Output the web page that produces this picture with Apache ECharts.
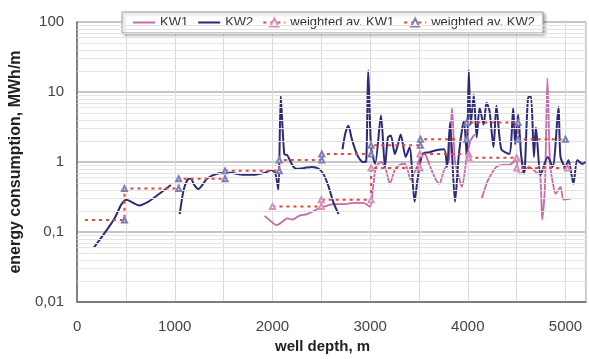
<!DOCTYPE html>
<html>
<head>
<meta charset="utf-8">
<script src="https://cdn.jsdelivr.net/npm/echarts@6/dist/echarts.min.js"></script>
<style>
html,body{margin:0;padding:0;background:#fff;}
#chart{width:589px;height:359px;}
</style>
</head>
<body>
<div id="chart"></div>
<script>
// ---- data (well depth, m ; energy consumption, MWh/m) ----
const kw1Depth = [1919,1990,2040,2101,2152,2202,2273,2354,2455,2525,2626,2727,2830,2929,3000,3030,3061,3111,3162,3202,3253,3303,3354,3384,3414,3465,3515,3556,3616,3667,3707,3758,3808,3838,3869,3909,3939,3990,4030,4071,
  4105,
  4141,4192,4222,4293,4364,4424,4495,4525,4566,4626,4697,4740,4762,4790,4815,4842,4869,4899,4949,4980,5051];
const kw1Value = [0.17,0.14,0.125,0.14,0.157,0.15,0.17,0.18,0.21,0.23,0.25,0.25,0.26,0.26,0.23,0.44,0.85,1.0,0.77,0.49,0.77,0.91,0.94,0.77,0.56,0.77,1.18,1.3,0.85,0.58,0.49,0.77,1.07,5.95,1.0,0.61,0.44,1.18,2.04,2.48,
  null,
  0.3,0.49,0.61,0.85,0.91,0.91,1.07,0.68,0.72,0.85,0.72,0.66,0.15,0.45,15.7,0.9,0.52,0.35,0.44,0.29,0.3];

const kw2Depth = [172,283,384,455,505,556,636,727,828,960,
  1005,
  1050,1091,1131,1162,1200,1240,1333,1434,1566,1697,1818,1919,1990,2030,2061,2085,2121,2152,2202,2242,2323,2404,2475,2525,2576,2626,2677,
  2700,
  2717,2747,2778,2808,2838,2879,2929,2960,2980,3010,3051,3111,3152,3182,3212,3253,3283,3313,3364,3404,3455,3485,3535,3606,3687,3758,3788,3818,3869,3909,3960,3990,4010,4030,4061,4091,4121,4162,4192,4222,4263,4293,4343,4424,4465,4485,4515,4545,4576,4616,4646,4677,4697,4747,4818,4869,4929,4949,5000,5030,5081,5121,5172,5205];
const kw2Value = [0.06,0.097,0.157,0.25,0.29,0.27,0.24,0.27,0.34,0.47,
  null,
  0.18,0.40,0.56,0.58,0.47,0.41,0.58,0.68,0.70,0.66,0.66,0.70,0.77,0.68,0.40,8.8,1.30,1.25,0.91,0.80,0.82,0.85,0.80,0.66,0.44,0.26,0.18,
  null,
  1.52,2.6,3.3,2.25,1.63,1.18,1.0,1.03,20.4,1.63,0.94,4.6,0.85,2.25,2.4,1.30,1.74,2.48,1.18,1.63,0.27,0.56,1.30,1.38,1.48,1.52,0.85,3.66,0.27,1.30,3.9,1.18,20.4,3.43,9.1,2.25,5.95,3.43,7.0,5.4,1.63,6.35,1.52,1.30,5.95,1.79,4.74,1.30,0.68,8.2,8.8,1.18,3.11,0.66,1.18,0.85,6.15,1.18,0.85,1.07,0.49,1.07,0.94,1.0];

// weighted averages (step lines)
const wav1Depth = [2000,2500,2500,3010,3010,3510,3510,4010,4010,4500,4500,5020];
const wav1Value = [0.232,0.232,0.29,0.29,0.82,0.82,1.3,1.3,1.15,1.15,0.82,0.82];
const wav2Depth = [80,485,485,1040,1040,1515,1515,2070,2070,2505,2505,3010,3010,3515,3515,3990,3990,4515,4515,5000];
const wav2Value = [0.148,0.148,0.417,0.417,0.576,0.576,0.747,0.747,1.07,1.07,1.30,1.30,1.73,1.73,2.11,2.11,3.66,3.66,2.11,2.11];

// axis ticks
const xTickLabels = [0,1000,2000,3000,4000,5000];
const yMajor = [0.01,0.1,1,10,100];
const yMinor = [];
for (let e = -2; e < 2; e++) for (let k = 2; k <= 9; k++) yMinor.push(Number((k * Math.pow(10, e)).toPrecision(3)));

function zip(a, b) { return a.map((d, i) => [d, b[i]]); }

const FONT = 'Liberation Sans, Arial, Helvetica, sans-serif';
const chart = echarts.init(document.getElementById('chart'), null, {renderer: 'canvas'});

const wav2Data = zip(wav2Depth, wav2Value).map((p, i) => i === 0 ? {value: p, symbol: 'none'} : p);
const hiddenSymbol = {opacity: 0, color: 'transparent', borderColor: 'transparent'};

chart.setOption({
  animation: false,
  backgroundColor: '#ffffff',
  textStyle: {fontFamily: FONT},
  grid: {left: 75, right: -2, top: 22, bottom: 54, show: true, borderColor: '#8a8a8a', borderWidth: 1, backgroundColor: 'transparent'},
  legend: {
    data: [
      {name: 'KW1', itemStyle: hiddenSymbol},
      {name: 'KW2', itemStyle: hiddenSymbol},
      {name: 'weighted av. KW1'},
      {name: 'weighted av. KW2'}
    ],
    left: 122, top: 12,
    itemWidth: 22, itemHeight: 10, itemGap: 9,
    padding: [4, 8, 4, 10],
    backgroundColor: '#ffffff',
    borderColor: '#9a9a9a', borderWidth: 1,
    shadowColor: 'rgba(0,0,0,0.3)', shadowBlur: 3, shadowOffsetX: 2, shadowOffsetY: 2,
    textStyle: {fontFamily: FONT, fontSize: 13, color: '#333'}
  },
  xAxis: {
    type: 'value', min: 0, max: 5210, interval: 500,
    name: 'well depth, m', nameLocation: 'middle', nameGap: 37,
    nameTextStyle: {fontFamily: FONT, fontSize: 15, fontWeight: 'bold', color: '#222', padding: [0, 18, 0, 0]},
    axisLine: {show: true, lineStyle: {color: '#666', width: 1.5}},
    axisTick: {show: false},
    axisLabel: {
      fontFamily: FONT, fontSize: 15, color: '#444', margin: 17,
      formatter: v => xTickLabels.indexOf(v) >= 0 ? String(v) : ''
    },
    splitLine: {show: true, lineStyle: {color: '#dadada', width: 1}}
  },
  yAxis: {
    type: 'log', logBase: 10, min: 0.01, max: 100,
    name: 'energy consumption, MWh/m', nameLocation: 'middle', nameGap: 46,
    nameTextStyle: {fontFamily: FONT, fontSize: 16, fontWeight: 'bold', color: '#222'},
    axisLine: {show: true, lineStyle: {color: '#666', width: 1.5}},
    axisTick: {show: false},
    axisLabel: {
      fontFamily: FONT, fontSize: 15, color: '#444', margin: 13,
      formatter: v => {
        const n = Number(Number(v).toPrecision(6));
        return yMajor.indexOf(n) >= 0 ? String(n).replace('.', ',') : '';
      }
    },
    splitLine: {show: true, lineStyle: {color: '#c6c6c6', width: 2}}
  },
  series: [
    {
      name: 'minor', type: 'line', z: 1, silent: true, symbol: 'none',
      data: [[-100, 1]], lineStyle: {opacity: 0},
      markLine: {
        silent: true, symbol: 'none', label: {show: false},
        lineStyle: {color: '#e4e4e4', width: 1, type: 'solid'},
        data: yMinor.map(v => ({yAxis: v}))
      }
    },
    {
      name: 'KW1', type: 'line', data: zip(kw1Depth, kw1Value), smooth: 0.25,
      symbol: 'none', connectNulls: false,
      lineStyle: {color: '#c66aa8', width: 1.8}, itemStyle: {color: '#c66aa8'}, z: 3
    },
    {
      name: 'KW2', type: 'line', data: zip(kw2Depth, kw2Value), smooth: 0.25,
      symbol: 'none', connectNulls: false,
      lineStyle: {color: '#2b2a78', width: 2}, itemStyle: {color: '#2b2a78'}, z: 4
    },
    {
      name: 'weighted av. KW1', type: 'line', data: zip(wav1Depth, wav1Value),
      symbol: 'emptyTriangle', symbolSize: 5,
      lineStyle: {color: '#e4463c', width: 2, type: [3, 4]},
      itemStyle: {color: '#d690c0', borderWidth: 1}, z: 5
    },
    {
      name: 'weighted av. KW2', type: 'line', data: wav2Data,
      symbol: 'emptyTriangle', symbolSize: 5,
      lineStyle: {color: '#e4463c', width: 2, type: [3, 4]},
      itemStyle: {color: '#7e7eb8', borderWidth: 1}, z: 5
    }
  ]
});
</script>
</body>
</html>
